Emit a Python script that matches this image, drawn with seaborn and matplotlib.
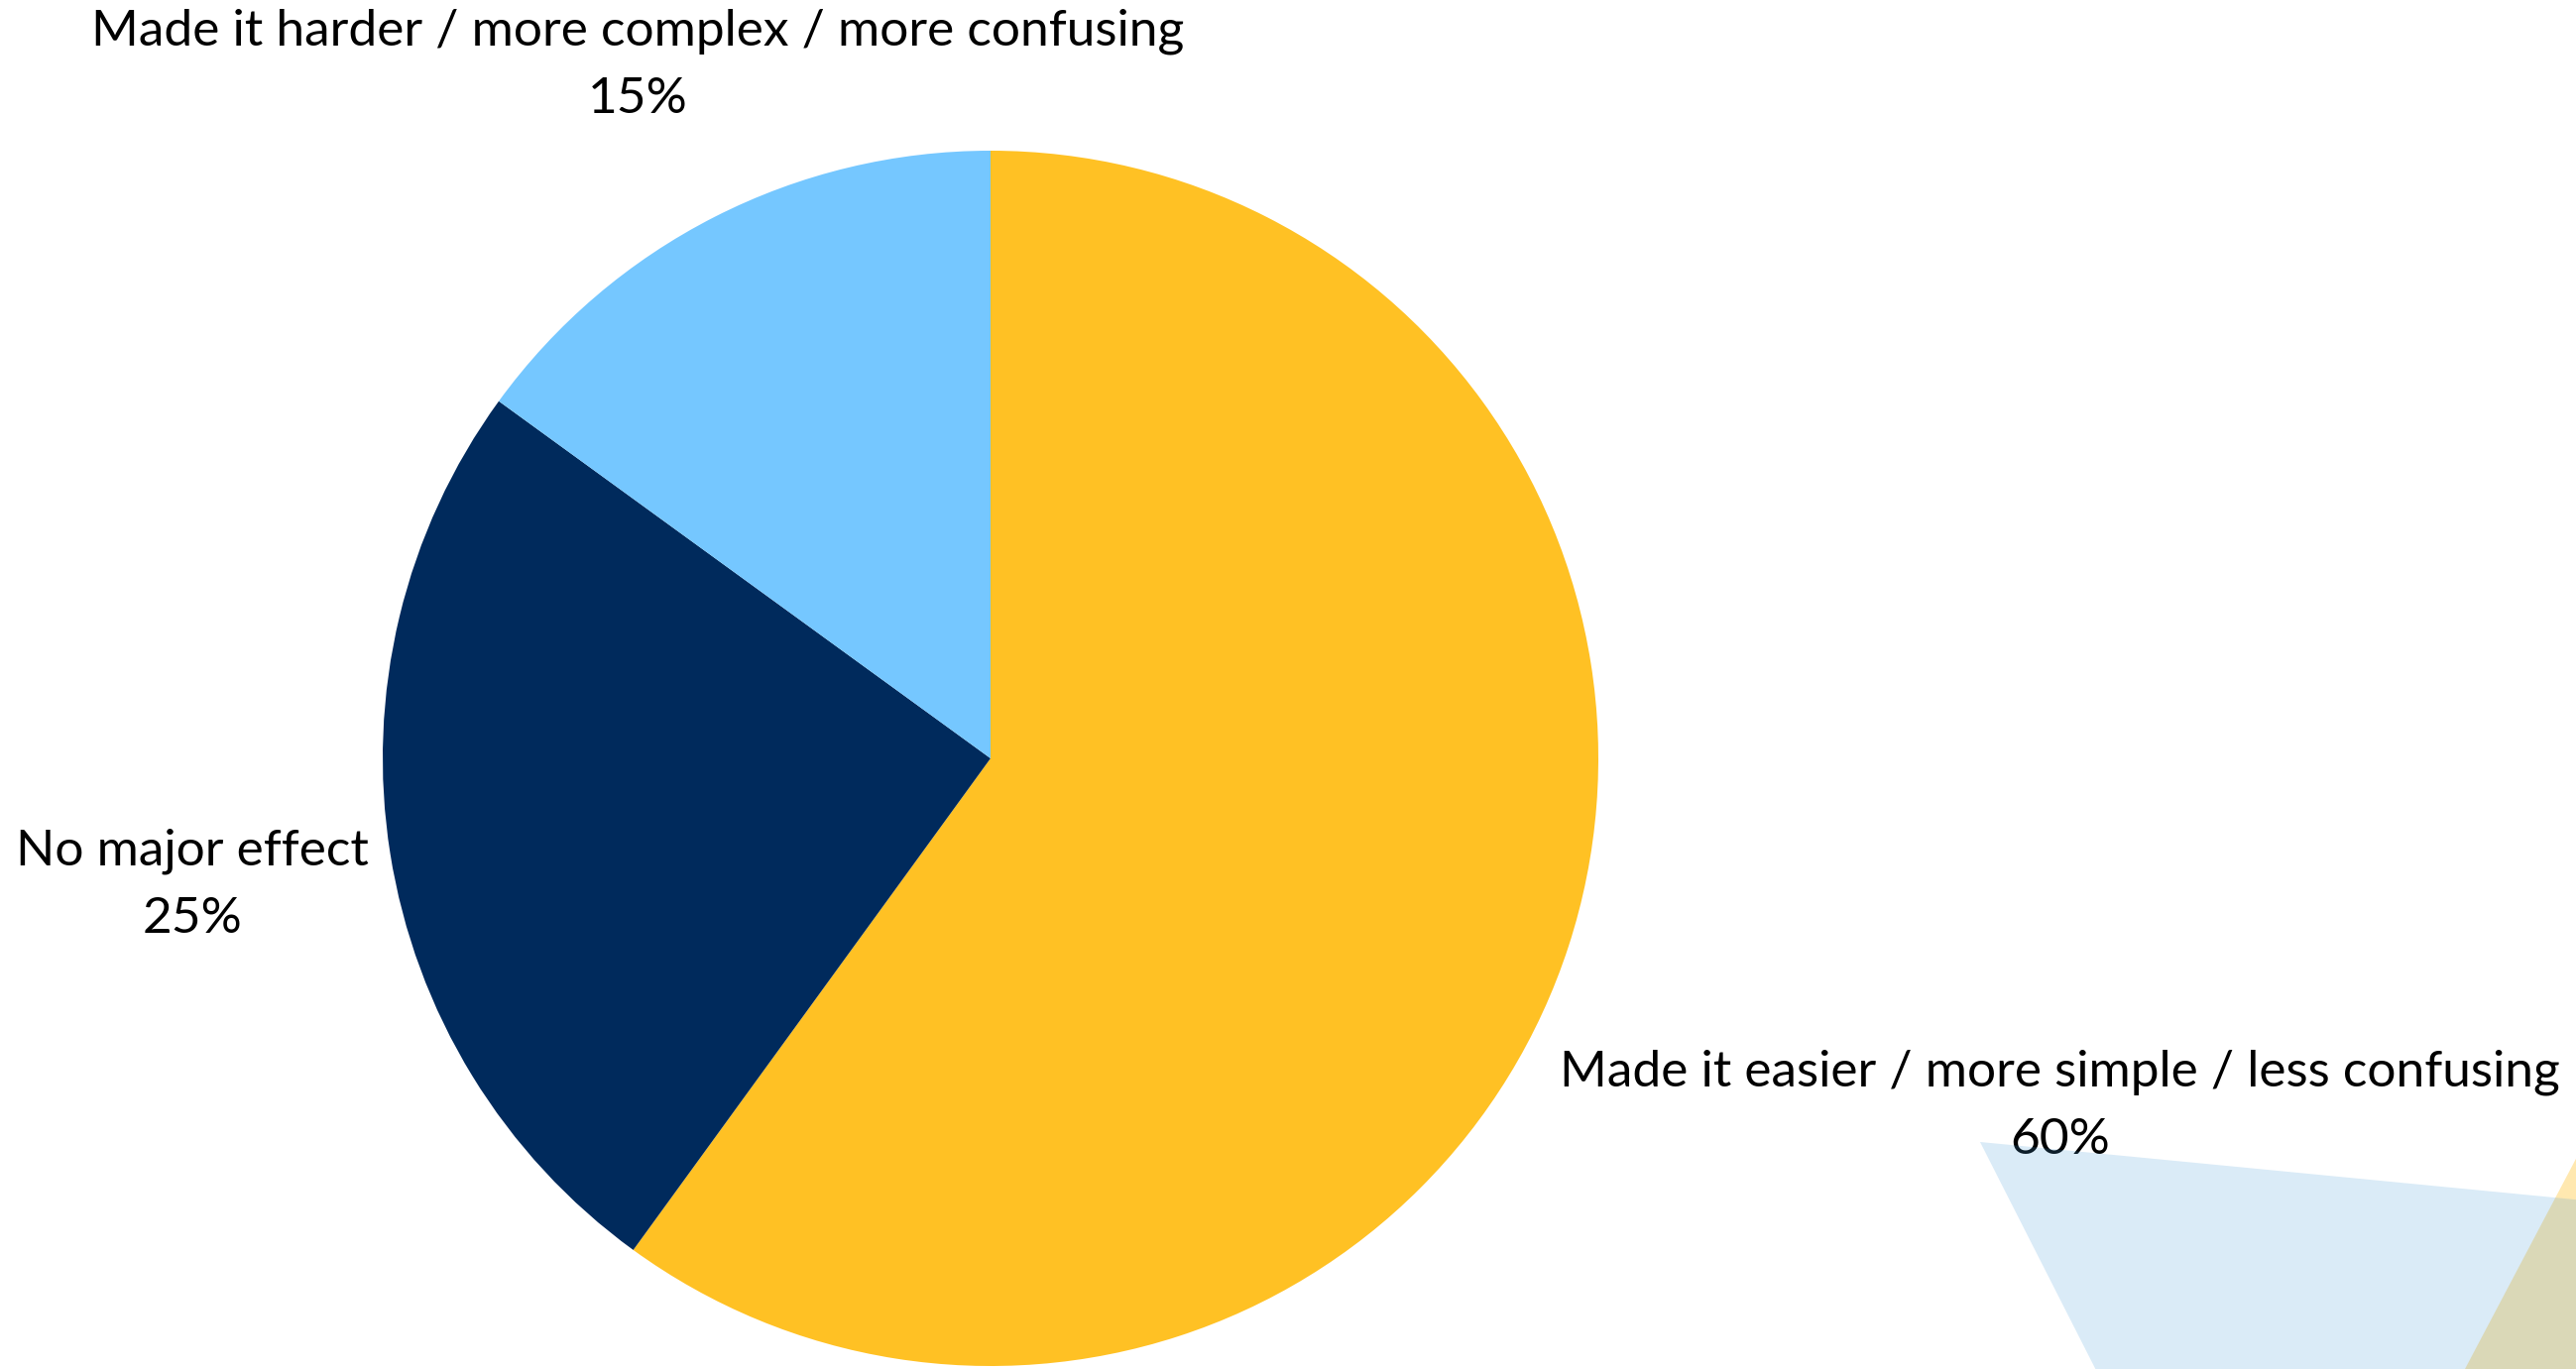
import numpy as np
import matplotlib
matplotlib.use("Agg")
import matplotlib.pyplot as plt
import seaborn as sns
from matplotlib.patches import Polygon

categories = ["Made it easier / more simple / less confusing",
              "No major effect",
              "Made it harder / more complex / more confusing"]
values = [60, 25, 15]
colors = ["#FFC124", "#002A5C", "#75C7FF"]
label_dist = [1.85, 1.33, 1.28]

sns.set_theme(style="white")
plt.rcParams['font.family'] = ['Lato', 'DejaVu Sans']

W, H = 2598, 1381
fig = plt.figure(figsize=(W / 100, H / 100), dpi=100)
fig.patch.set_facecolor("white")

# decorative background shapes (figure pixel coords, y from top)
def fpoly(pts, **kw):
    xy = [(x / W, 1 - y / H) for x, y in pts]
    fig.patches.append(Polygon(xy, closed=True, transform=fig.transFigure, **kw))

fpoly([(2628, 1112), (2476, 1400), (2700, 1400)], facecolor="#FFE8B0", edgecolor="none", zorder=0)
fpoly([(1997, 1152), (2700, 1220), (2700, 1400), (2123, 1400)],
      facecolor=(70 / 255, 155 / 255, 215 / 255, 0.2), edgecolor="none", zorder=0)

ax = fig.add_axes([0, 0, 1, 1])
ax.patch.set_alpha(0)
cx, cy, R = 999, 765, 613
wedges, _ = ax.pie(values, colors=colors, startangle=90, counterclock=False,
                   wedgeprops=dict(linewidth=0))
for w, lab, v, d in zip(wedges, categories, values, label_dist):
    ang = np.deg2rad((w.theta1 + w.theta2) / 2)
    ax.text(d * np.cos(ang), d * np.sin(ang), f"{lab}\n{v}%", ha="center", va="center",
            fontsize=37, color="#000000", linespacing=1.6)

ax.set_aspect("auto")
ax.set_xlim(-cx / R, (W - cx) / R)
ax.set_ylim(-(H - cy) / R, cy / R)
ax.axis("off")

fig.savefig("out.png", dpi=100, facecolor="white")
